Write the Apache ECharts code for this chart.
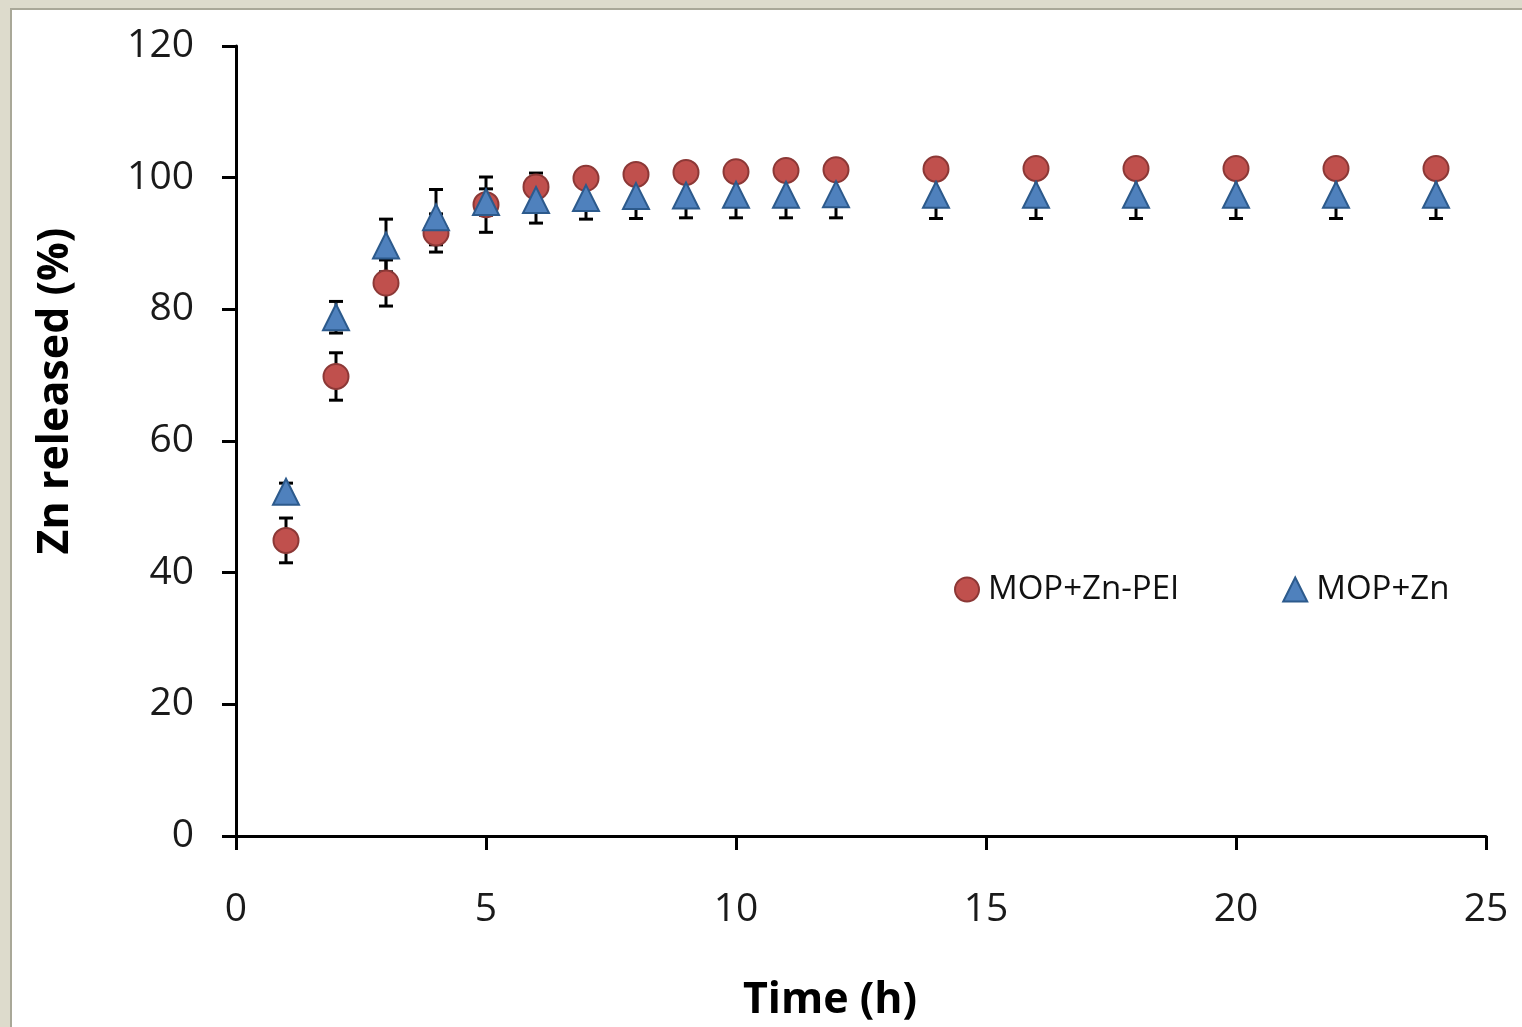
<!DOCTYPE html>
<html>
<head>
<meta charset="utf-8">
<title>Zn release</title>
<script src="https://cdn.jsdelivr.net/npm/echarts@6/dist/echarts.min.js"></script>
<style>
  html, body { margin: 0; padding: 0; width: 1522px; height: 1027px; overflow: hidden; background: #dddbcc; }
  #panel { position: absolute; left: 10px; top: 8px; width: 1530px; height: 1040px; background: #ffffff;
           border-left: 2px solid #a9a898; border-top: 2px solid #a9a898; box-sizing: border-box; }
  #chart { position: absolute; left: 0; top: 0; width: 1522px; height: 1027px; }
</style>
</head>
<body>
<div id="panel"></div>
<div id="chart"></div>
<script>
// Release time points (h)
const hours = [1, 2, 3, 4, 5, 6, 7, 8, 9, 10, 11, 12, 14, 16, 18, 20, 22, 24];

// MOP+Zn-PEI: cumulative Zn released (%) and standard deviation
const peiValues = [44.9, 69.8, 84.0, 91.6, 95.9, 98.6, 99.9, 100.5, 100.8, 100.9, 101.1, 101.2, 101.3, 101.4, 101.4, 101.4, 101.4, 101.4];
const peiErrors = [3.4, 3.6, 3.5, 2.9, 4.2, 2.1, 0.6, 0.6, 0.5, 0.5, 0.5, 0.5, 0.5, 0.5, 0.5, 0.5, 0.5, 0.5];

// MOP+Zn: cumulative Zn released (%) and standard deviation
const znValues = [52.3, 78.8, 89.7, 94.0, 96.3, 96.6, 96.9, 97.2, 97.3, 97.4, 97.4, 97.5, 97.4, 97.4, 97.4, 97.4, 97.4, 97.4];
const znErrors = [1.3, 2.4, 4.0, 4.2, 2.0, 3.5, 3.2, 3.4, 3.4, 3.5, 3.5, 3.6, 3.6, 3.6, 3.6, 3.6, 3.6, 3.6];

const seriesNames = ['MOP+Zn-PEI', 'MOP+Zn'];
const xTicks = [0, 5, 10, 15, 20, 25];
const yTicks = [0, 20, 40, 60, 80, 100, 120];

const FONT = 'Open Sans';

function errorBarSeries(values, errors) {
  return {
    type: 'custom',
    silent: true,
    z: 1,
    data: hours.map((h, i) => [h, values[i], errors[i]]),
    renderItem: function (params, api) {
      const x = api.value(0), y = api.value(1), e = api.value(2);
      const top = api.coord([x, y + e]);
      const bot = api.coord([x, y - e]);
      const half = 7;
      const style = { stroke: '#000000', lineWidth: 3 };
      return {
        type: 'group',
        children: [
          { type: 'line', shape: { x1: top[0], y1: top[1], x2: bot[0], y2: bot[1] }, style: style },
          { type: 'line', shape: { x1: top[0] - half, y1: top[1], x2: top[0] + half, y2: top[1] }, style: style },
          { type: 'line', shape: { x1: bot[0] - half, y1: bot[1], x2: bot[0] + half, y2: bot[1] }, style: style }
        ]
      };
    }
  };
}

const chart = echarts.init(document.getElementById('chart'), null, { renderer: 'canvas' });

chart.setOption({
  backgroundColor: 'transparent',
  animation: false,
  textStyle: { fontFamily: FONT },
  grid: { left: 236, right: 36, top: 46, bottom: 187, containLabel: false },
  legend: {
    left: 949,
    top: 568,
    itemWidth: 24,
    itemHeight: 24,
    itemGap: 103,
    data: seriesNames,
    textStyle: { fontFamily: FONT, fontSize: 33, color: '#111111', padding: [0, 0, 0, 4] }
  },
  xAxis: {
    type: 'value',
    min: xTicks[0],
    max: xTicks[xTicks.length - 1],
    interval: 5,
    name: 'Time (h)',
    nameLocation: 'middle',
    nameGap: 143,
    nameTextStyle: { fontFamily: FONT, fontSize: 43, fontWeight: 'bold', color: '#000000', padding: [0, 62, 0, 0] },
    axisLine: { onZero: false, lineStyle: { color: '#000000', width: 3 } },
    axisTick: { show: true, length: 14, lineStyle: { color: '#000000', width: 3 } },
    axisLabel: { fontFamily: FONT, fontSize: 39, color: '#1a1a1a', margin: 54 },
    splitLine: { show: false }
  },
  yAxis: {
    type: 'value',
    min: yTicks[0],
    max: yTicks[yTicks.length - 1],
    interval: 20,
    name: 'Zn released (%)',
    nameLocation: 'middle',
    nameGap: 159,
    nameTextStyle: { fontFamily: FONT, fontSize: 43, fontWeight: 'bold', color: '#000000', padding: [0, 0, 0, 100] },
    axisLine: { show: true, lineStyle: { color: '#000000', width: 3 } },
    axisTick: { show: true, length: 14, lineStyle: { color: '#000000', width: 3 } },
    axisLabel: { fontFamily: FONT, fontSize: 39, color: '#1a1a1a', margin: 42 },
    splitLine: { show: false }
  },
  series: [
    errorBarSeries(peiValues, peiErrors),
    errorBarSeries(znValues, znErrors),
    {
      name: seriesNames[0],
      type: 'scatter',
      z: 3,
      symbol: 'circle',
      symbolSize: 25,
      itemStyle: { color: '#c0504d', borderColor: '#8c3836', borderWidth: 2, opacity: 1 },
      data: hours.map((h, i) => [h, peiValues[i]])
    },
    {
      name: seriesNames[1],
      type: 'scatter',
      z: 4,
      symbol: 'triangle',
      symbolSize: 26,
      itemStyle: { color: '#4f81bd', borderColor: '#2c5a8c', borderWidth: 2, opacity: 1 },
      data: hours.map((h, i) => [h, znValues[i]])
    }
  ]
});
</script>
</body>
</html>
